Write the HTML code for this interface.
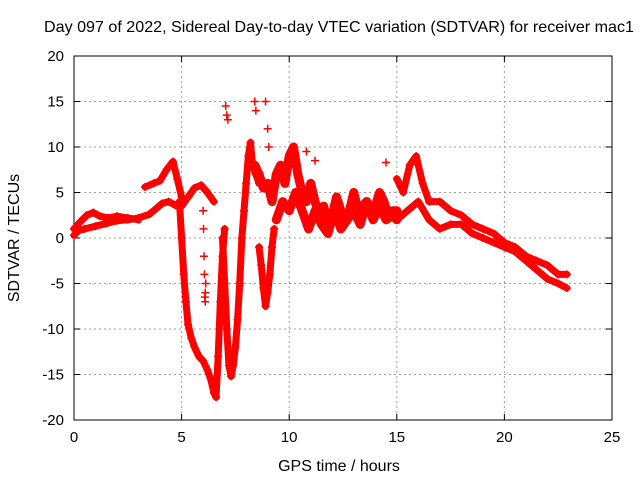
<!DOCTYPE html>
<html><head><meta charset="utf-8"><style>
body{margin:0;background:#fff}
svg{display:block;font-family:"Liberation Sans",sans-serif}
</style></head><body>
<svg id="chart" width="640" height="480">
<rect width="640" height="480" fill="#fff"/>
<g id="grid"></g>
<g id="axes"></g>
<g id="marks"></g>
<text x="339" y="32" font-size="16" text-anchor="middle" textLength="590" lengthAdjust="spacingAndGlyphs">Day 097 of 2022, Sidereal Day-to-day VTEC variation (SDTVAR) for receiver mac1</text>
<text x="339" y="471" font-size="16" text-anchor="middle">GPS time / hours</text>
<text transform="translate(19,238) rotate(-90)" font-size="16" text-anchor="middle">SDTVAR / TECUs</text>
</svg>
<script>
const xTicks=[0,5,10,15,20,25];
const yTicks=[-20,-15,-10,-5,0,5,10,15,20];
const t1h=[0,0.2,0.5,1,1.5,2,2.5,3,3.5,3.8,4.1,4.4,4.7,5.0,5.3,5.6,5.9,6.2,6.5];
const t1v=[0.3,0.8,1,1.3,1.6,1.9,2,2.2,2.6,3.2,3.8,4,3.6,3.5,4.5,5.5,5.8,5,4];
const t2h=[0,0.3,0.6,0.9,1.2,1.6,2,2.5,3];
const t2v=[1,1.8,2.5,2.8,2.4,2.2,2.4,2.2,2];
const t3h=[3.3,3.7,4.0,4.3,4.6,4.8,5.0];
const t3v=[5.6,6,6.3,7.5,8.4,6.5,4.5];
const t4h=[4.9,5.0,5.1,5.2,5.3,5.45,5.6,5.8,6.0,6.2,6.35,6.5,6.6,6.7,6.8,6.9,7.0];
const t4v=[4,0,-4,-7,-9.5,-11,-12,-13,-13.5,-14.5,-15.5,-17,-17.5,-13,-7,-2,1];
const t5h=[6.0,6.02,6.04,6.06,6.08,6.1,6.1,6.12];
const t5v=[3,1,-2,-4,-6.5,-7,-6,-5];
const t6h=[6.9,7.0,7.1,7.2,7.3,7.4,7.5,7.6,7.7,7.8,7.9,8.0,8.1,8.2,8.3,8.45,8.6];
const t6v=[0,-5,-10,-14,-15.2,-14,-12,-9,-5,0,3,6,9,10.5,8,7,6];
const t7h=[7.05,7.1,7.15];
const t7v=[14.5,13.5,13];
const t8h=[8.6,8.7,8.8,8.9,9.0,9.1,9.2,9.3];
const t8v=[-1,-3,-5.5,-7.5,-6,-4,-1,1];
const t9h=[8.4,8.45,8.9,9.0,9.05];
const t9v=[15,14,15,12,10];
const t10h=[8.4,8.6,8.8,9.0,9.2,9.4,9.6,9.8,10.0,10.2,10.4,10.6,10.8,11.0,11.2,11.4,11.6,11.8,12.0,12.2,12.4,12.6,12.8,13.0,13.2,13.4,13.6,13.8,14.0,14.2,14.4,14.6,14.8,15.0];
const t10v=[8,7,5.5,6,4,7,8,6,9,10,7,5,4,6,4,2.5,3.5,1.5,2.5,4.5,3,2,3,5,3,3.5,4,3,3.5,5,4,2.5,3,3];
const t11h=[9.4,9.7,10,10.3,10.6,10.9,11.2,11.5,11.8,12.1,12.4,12.7,13,13.3,13.6,13.9,14.2,14.5,14.8,15];
const t11v=[2,4,3,5,3,1,3,1.5,0.5,3,1,2,3,1.5,4,2,3.5,2,2.5,2];
const t12h=[15,15.3,15.6,15.9,16.2,16.5,17,17.5,18,18.5,19,19.5,20,20.5,21,21.5,22,22.5,22.9];
const t12v=[6.5,5,8,9,6,4,4,3,2.5,1.5,1,0.5,-0.5,-1,-2,-2.5,-3,-4,-4];
const t13h=[15,15.5,16,16.5,17,17.5,18,18.5,19,19.5,20,20.5,21,21.5,22,22.5,22.9];
const t13v=[2,3,4,2,1,1.5,1.5,0.5,0,-0.5,-1,-1.5,-2.5,-3.5,-4.5,-5,-5.5];
const t14h=[14.5,10.8,11.2,9.2];
const t14v=[8.3,9.5,8.5,-1];

const L=74,R=612,T=56,B=420;
const xs=h=>L+(h-0)/(25-0)*(R-L);
const ys=v=>B-(v+20)/40*(B-T);
const NS="http://www.w3.org/2000/svg";
function mk(tag,attrs,parent){const e=document.createElementNS(NS,tag);for(const k in attrs)e.setAttribute(k,attrs[k]);parent.appendChild(e);return e;}
const grid=document.getElementById('grid'),axes=document.getElementById('axes'),marks=document.getElementById('marks');
xTicks.forEach(t=>{
  const x=xs(t);
  if(t>0&&t<25){const g=mk('line',{x1:x,x2:x,y1:T,y2:B,stroke:'#a0a0a0','stroke-dasharray':'2,3'},grid);
  
  }
  const tk=mk('path',{d:`M${x},${B}v-6M${x},${T}v6`,stroke:'#000'},axes);
  
  
  const lb=mk('text',{x:x,y:B+22,'font-size':15,'text-anchor':'middle'},axes);lb.textContent=t;
  
  
});
yTicks.forEach(t=>{
  const y=ys(t);
  if(t>-20&&t<20){const g=mk('line',{x1:L,x2:R,y1:y,y2:y,stroke:'#a0a0a0','stroke-dasharray':'2,3'},grid);
  
  }
  const tk=mk('path',{d:`M${L},${y}h6M${R},${y}h-6`,stroke:'#000'},axes);
  
  
  const lb=mk('text',{x:L-10,y:y+5,'font-size':15,'text-anchor':'end'},axes);lb.textContent=t;
  
  
});
const fr=mk('rect',{x:L,y:T,width:R-L,height:B-T,fill:'none',stroke:'#000'},axes);


const traces=[[t1h,t1v],[t2h,t2v],[t3h,t3v],[t4h,t4v],[t5h,t5v],[t6h,t6v],[t7h,t7v],[t8h,t8v],[t9h,t9v],[t10h,t10v],[t11h,t11v],[t12h,t12v],[t13h,t13v],[t14h,t14v]];
traces.forEach(([hs,vs],i)=>{
  const sparse=(i===4||i===6||i===8||i===13);
  if(!sparse&&hs.length>1){
    const w=(i===9||i===10)?9:7;
    const pl=mk('polyline',{points:hs.map((h,j)=>xs(h)+','+ys(vs[j])).join(' '),fill:'none',stroke:'#f00','stroke-width':w,'stroke-linejoin':'round','stroke-linecap':'round'},marks);
    
    
  }
  hs.forEach((h,j)=>{
    const x=xs(h),y=ys(vs[j]);
    const p=mk('path',{d:`M${x-4},${y}h8M${x},${y-4}v8`,stroke:'#f00','stroke-width':1.5},marks);
    
    
  });
});
</script>
</body></html>
